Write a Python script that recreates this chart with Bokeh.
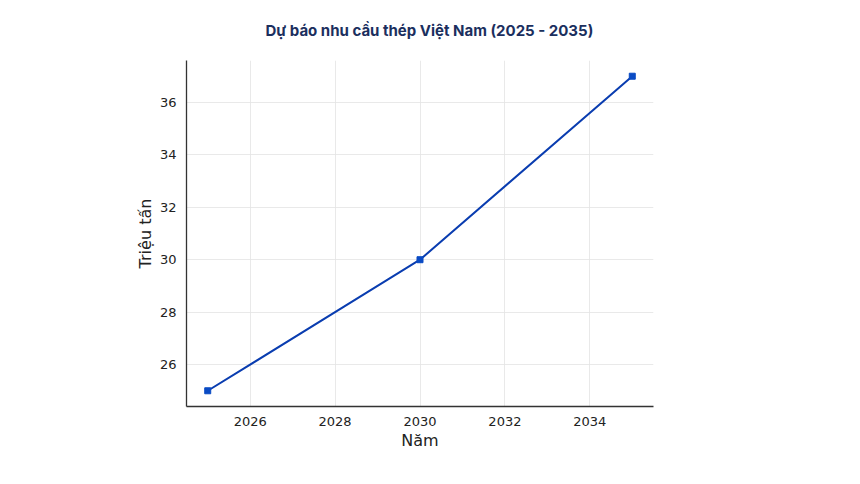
from bokeh.plotting import figure
from bokeh.models import FixedTicker, Range1d
from bokeh.embed import file_html
from bokeh.resources import INLINE

years = [2025, 2030, 2035]
demand = [25, 30, 37]
x_ticks = [2026, 2028, 2030, 2032, 2034]
y_ticks = [26, 28, 30, 32, 34, 36]

W, H = 844, 468
p = figure(width=W, height=H, output_backend="svg", toolbar_location=None,
           x_range=Range1d(2024.5, 2035.5), y_range=Range1d(24.4, 37.6),
           min_border_left=186, min_border_right=W - 653,
           min_border_top=60, min_border_bottom=H - 406)
p.outline_line_color = None
p.background_fill_color = "white"
p.border_fill_color = "white"

p.title.text = "Dự báo nhu cầu thép Việt Nam (2025 - 2035)"
p.title.align = "left"
p.title.vertical_align = "top"
p.title.text_font = "Inter"
p.title.text_font_size = "15px"
p.title.text_font_style = "bold"
p.title.text_color = "#1b2f5e"
p.title.offset = 79
p.title.standoff = 38

for ax in (p.xaxis[0], p.yaxis[0]):
    ax.axis_line_color = "#333333"
    ax.axis_line_width = 1.3
    ax.major_tick_line_color = None
    ax.minor_tick_line_color = None
    ax.major_label_text_font = "DejaVu Sans"
    ax.major_label_text_font_size = "13px"
    ax.major_label_text_color = "#222222"
    ax.axis_label_text_font = "DejaVu Sans"
    ax.axis_label_text_font_size = "16px"
    ax.axis_label_text_font_style = "normal"
    ax.axis_label_text_color = "#222222"

p.xaxis.ticker = FixedTicker(ticks=x_ticks)
p.yaxis.ticker = FixedTicker(ticks=y_ticks)
p.xaxis.axis_label = "Năm"
p.yaxis.axis_label = "Triệu tấn"
p.xaxis.major_label_standoff = 4
p.yaxis.major_label_standoff = 4
p.xaxis.axis_label_standoff = 2
p.yaxis.axis_label_standoff = 2

p.xgrid.grid_line_color = "#e3e3e3"
p.ygrid.grid_line_color = "#e3e3e3"
p.xgrid.grid_line_width = 0.8
p.ygrid.grid_line_width = 0.8

p.line(years, demand, line_color="#0a3db0", line_width=2)
p.scatter(years, demand, marker="square", size=6, fill_color="#0a4bc4", line_color="#0a4bc4")

open("out.html", "w").write(file_html(p, INLINE))
